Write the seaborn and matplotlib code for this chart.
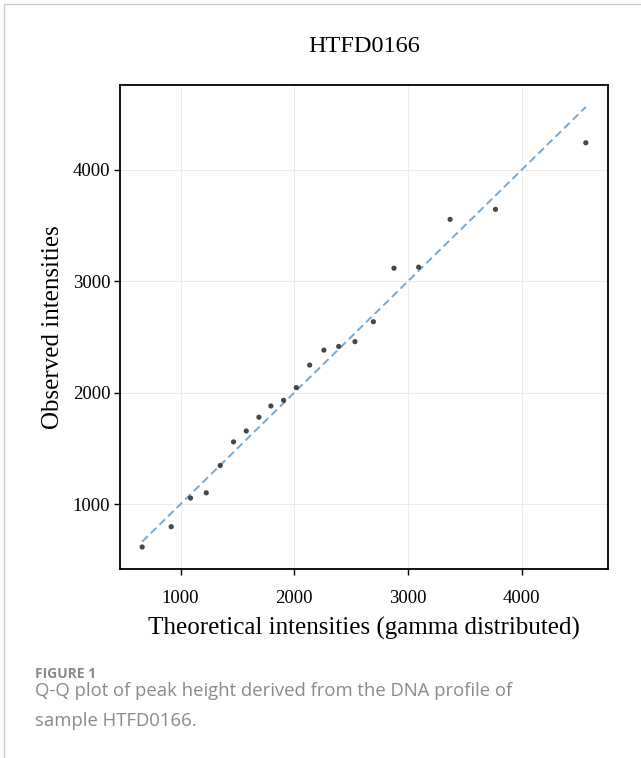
import numpy as np
import pandas as pd
import matplotlib
matplotlib.use("Agg")
import matplotlib.pyplot as plt
import seaborn as sns
from matplotlib.lines import Line2D

# Data (sorted quantiles)
theoretical = [663, 918, 1088, 1226, 1349, 1466, 1578, 1689, 1794, 1906, 2018,
               2135, 2260, 2390, 2533, 2695, 2876, 3093, 3369, 3768, 4562]
observed = [615, 797, 1054, 1101, 1346, 1558, 1656, 1779, 1880, 1931, 2045,
            2247, 2381, 2414, 2457, 2636, 3116, 3125, 3554, 3644, 4241]
x_ticks = [1000, 2000, 3000, 4000]
y_ticks = [1000, 2000, 3000, 4000]
title = "HTFD0166"
x_label = "Theoretical intensities (gamma distributed)"
y_label = "Observed intensities"
caption_head = "FIGURE 1"
caption_lines = ["Q-Q plot of peak height derived from the DNA profile of",
                 "sample HTFD0166."]

df = pd.DataFrame({"theoretical": theoretical, "observed": observed})
ref = pd.DataFrame({"x": [min(theoretical), max(theoretical)],
                    "y": [min(theoretical), max(theoretical)]})

sns.set_theme(style="white")
plt.rcParams["font.family"] = ["Liberation Serif", "DejaVu Serif"]

W, H = 641, 758
fig = plt.figure(figsize=(W / 100, H / 100), dpi=100)
ax = fig.add_axes([120 / W, 1 - 569 / H, (608 - 120) / W, (569 - 85) / H])

ax.grid(True, color="#ebebeb", linewidth=0.7)
ax.set_axisbelow(True)

sns.lineplot(data=ref, x="x", y="y", ax=ax, color="#74a9d3", linewidth=1.4,
             linestyle=(0, (4, 2.2)), zorder=2)
sns.scatterplot(data=df, x="theoretical", y="observed", ax=ax, color="#333333",
                s=14, edgecolor="none", alpha=0.9, zorder=3)

allx = theoretical
ally = observed + list(ref["y"])
def expand(lo, hi, f=0.05):
    d = (hi - lo) * f
    return lo - d, hi + d
ax.set_xlim(*expand(min(allx), max(allx)))
ax.set_ylim(*expand(min(ally), max(ally)))
ax.set_xticks(x_ticks)
ax.set_yticks(y_ticks)
ax.set_xticklabels([str(v) for v in x_ticks])
ax.set_yticklabels([str(v) for v in y_ticks])
ax.tick_params(axis="both", direction="out", length=4, width=1, color="black",
               labelsize=13.5, labelcolor="black", bottom=True, left=True)
ax.tick_params(axis="y", pad=3)
ax.tick_params(axis="x", pad=11)
for sp in ax.spines.values():
    sp.set_color("black")
    sp.set_linewidth(1.3)

ax.set_xlabel(x_label, fontsize=18, color="black", labelpad=7)
ax.set_ylabel(y_label, fontsize=18, color="black", labelpad=6)
ax.set_title(title, fontsize=17.5, color="black", pad=24)

# caption
cap_font = ["Open Sans", "DejaVu Sans"]
fig.text(35 / W, 1 - 678 / H, caption_head, fontsize=10, fontweight="bold",
         color="#8a8a8a", family=cap_font, va="baseline", ha="left")
for i, line in enumerate(caption_lines):
    fig.text(35 / W, 1 - (696 + 30 * i) / H, line, fontsize=13.3, color="#8a8a8a",
             family=cap_font, va="baseline", ha="left")

# page border lines (left and top)
fig.add_artist(Line2D([4 / W, 4 / W], [0, 1 - 4 / H], color="#cccccc", lw=1,
                      transform=fig.transFigure))
fig.add_artist(Line2D([4 / W, 1], [1 - 4 / H, 1 - 4 / H], color="#cccccc", lw=1,
                      transform=fig.transFigure))

fig.savefig("out.png", dpi=100)
